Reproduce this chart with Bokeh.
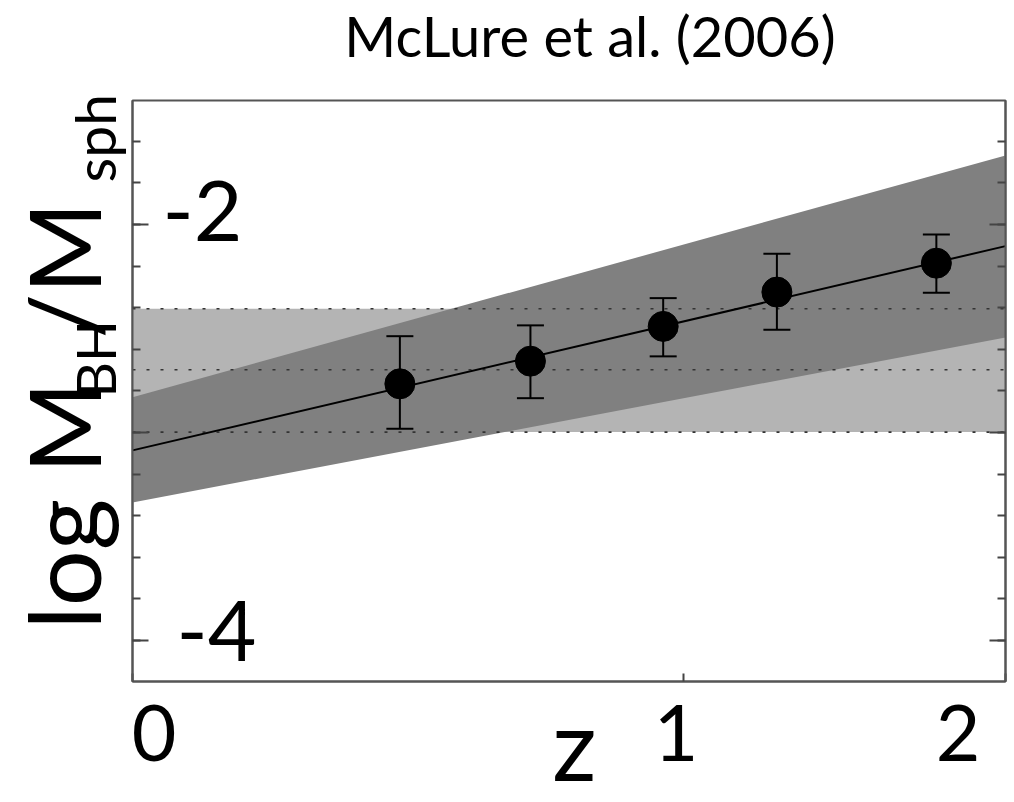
import math
from bokeh.plotting import figure
from bokeh.layouts import row, column
from bokeh.models import Range1d, FixedTicker, LinearAxis, ColumnDataSource
from bokeh.core.properties import value
from bokeh.embed import file_html
from bokeh.resources import INLINE

# ---------------- data ----------------
z_points = [0.40, 0.65, 0.95, 1.25, 1.75]
ratio_points = [-2.766, -2.657, -2.490, -2.325, -2.186]
ratio_upper = [-2.537, -2.485, -2.354, -2.141, -2.048]
ratio_lower = [-2.982, -2.835, -2.634, -2.506, -2.328]

z_fit = [0.0, 2.0]
ratio_fit = [-3.086, -2.104]
fit_band_upper = [-2.830, -1.668]
fit_band_lower = [-3.336, -2.543]

local_z = [0.0, 2.0]
local_mid = [-2.698, -2.698]
local_upper = [-2.405, -2.405]
local_lower = [-2.998, -2.998]

x_tick_z = [0, 1, 2]
x_tick_labels = ["0", "1", "2"]
y_tick_values = [-2, -4]
y_tick_labels = ["-2", "-4"]
y_major = [-4, -3, -2]
y_minor = [-4.2, -4.0, -3.8, -3.6, -3.4, -3.2, -3.0, -2.8, -2.6, -2.4,
           -2.2, -2.0, -1.8, -1.6, -1.4]

title_text = "McLure et al.  (2006)"
x_label = "z"
y_label_parts = ["log M", "BH", "/M", "sph"]
FONT = value("Lato")
MID = 0.387   # the svg output anchors "alphabetic" text at mid-height; shift back

W, H = 1014, 802
FL, FT, FR, FB = 132, 100, 1005, 681     # plot frame on the page
PAD_L, PAD_T, PAD_B = 3, 3, 2
LEFT_W = FL - PAD_L
TOP_H = FT - PAD_T
BOT_Y = FB + PAD_B


def text_fig(x0, y0, w, h):
    """A bare figure whose ranges are page pixel coordinates."""
    f = figure(width=w, height=h, x_range=Range1d(x0, x0 + w),
               y_range=Range1d(y0 + h, y0), min_border=0,
               x_axis_location=None, y_axis_location=None,
               toolbar_location=None, output_backend="svg")
    f.outline_line_color = None
    f.grid.visible = False
    f.background_fill_color = "white"
    f.border_fill_color = "white"
    return f


def put(f, text, X, Y, size, align="left", rotated=False):
    """X, Y: page position of the text's baseline start / centre."""
    if rotated:
        X = X - MID * size
        angle = math.pi / 2
    else:
        Y = Y - MID * size
        angle = 0.0
    f.text(x=[X], y=[Y], text=[text], text_font=FONT,
           text_font_size=f"{size}px", text_align=align,
           text_baseline="alphabetic", angle=angle, text_color="black")


# ---------------- main plot ----------------
p = figure(width=W - LEFT_W, height=(FB - FT) + PAD_T + PAD_B,
           x_axis_type="log", x_range=Range1d(1, 3),
           y_range=Range1d(-4.197, -1.404),
           output_backend="svg", toolbar_location=None,
           min_border_left=PAD_L, min_border_right=W - FR,
           min_border_top=PAD_T, min_border_bottom=PAD_B)
p.grid.visible = False
p.outline_line_color = "#555555"
p.outline_line_width = 2
p.background_fill_color = "white"
p.border_fill_color = "white"

x_pts = [1 + z for z in z_points]
x_fit = [1 + z for z in z_fit]
x_loc = [1 + z for z in local_z]

p.varea(x=x_loc, y1=local_lower, y2=local_upper, fill_color="#b4b4b4")
p.varea(x=x_fit, y1=fit_band_lower, y2=fit_band_upper, fill_color="#808080")
for yy in (local_upper, local_mid, local_lower):
    p.line(x=x_loc, y=yy, line_color="#333333", line_width=1.6, line_dash="3 11")
p.line(x=x_fit, y=ratio_fit, line_color="black", line_width=2)

src = ColumnDataSource(dict(x=x_pts, y=ratio_points, up=ratio_upper, lo=ratio_lower))
p.segment(x0="x", y0="lo", x1="x", y1="up", source=src, line_color="black", line_width=2)
p.scatter(x="x", y="up", source=src, marker="dash", size=27, line_color="black", line_width=2)
p.scatter(x="x", y="lo", source=src, marker="dash", size=27, line_color="black", line_width=2)
p.scatter(x="x", y="y", source=src, size=30, fill_color="black", line_color="black")

# y tick labels drawn inside the frame, anchored on their tick values
TS = 84
p.text(x=[1], y=[y_tick_values[0]], text=[y_tick_labels[0]], text_font=FONT,
       text_font_size=f"{TS}px", text_baseline="alphabetic", text_align="left",
       x_offset=30, y_offset=19 - MID * TS, text_color="black")
p.text(x=[1], y=[y_tick_values[1]], text=[y_tick_labels[1]], text_font=FONT,
       text_font_size=f"{TS}px", text_baseline="alphabetic", text_align="left",
       x_offset=44, y_offset=23 - MID * TS, text_color="black")


def style_axis(ax):
    ax.major_label_text_color = None
    ax.major_label_text_font_size = "0px"
    ax.major_label_standoff = 0
    ax.axis_line_color = "#555555"
    ax.axis_line_width = 2
    ax.major_tick_line_color = "#444444"
    ax.minor_tick_line_color = "#444444"
    ax.major_tick_line_width = 2
    ax.minor_tick_line_width = 2
    ax.major_tick_out = 0
    ax.minor_tick_out = 0


style_axis(p.xaxis[0])
p.xaxis[0].ticker = FixedTicker(ticks=[1 + z for z in x_tick_z])
p.xaxis[0].major_tick_in = 8
p.xaxis[0].minor_tick_line_color = None

style_axis(p.yaxis[0])
p.yaxis[0].ticker = FixedTicker(ticks=y_major, minor_ticks=y_minor)
p.yaxis[0].major_tick_in = 16
p.yaxis[0].minor_tick_in = 8

rax = LinearAxis(ticker=FixedTicker(ticks=y_major, minor_ticks=y_minor))
style_axis(rax)
rax.major_tick_in = 16
rax.minor_tick_in = 8
p.add_layout(rax, "right")

# ---------------- texts around the frame ----------------
ylab = text_fig(0, 0, LEFT_W, H)
put(ylab, y_label_parts[0], 100, 629, 99, rotated=True)
put(ylab, y_label_parts[1], 116, 397, 55, rotated=True)
put(ylab, y_label_parts[2], 100, 338, 99, rotated=True)
put(ylab, y_label_parts[3], 116, 182, 57, rotated=True)

top = text_fig(LEFT_W, 0, W - LEFT_W, TOP_H)
put(top, title_text, 600, 57, 56, align="center")

bot = text_fig(LEFT_W, BOT_Y, W - LEFT_W, H - BOT_Y)
for t, X in zip(x_tick_labels, [151, 680, 966]):
    put(bot, t, X, 762, 77, align="center")
put(bot, x_label, 577, 780.5, 98, align="center")

layout = row(ylab, column(top, p, bot, spacing=0), spacing=0)

open("out.html", "w").write(file_html(layout, INLINE))
